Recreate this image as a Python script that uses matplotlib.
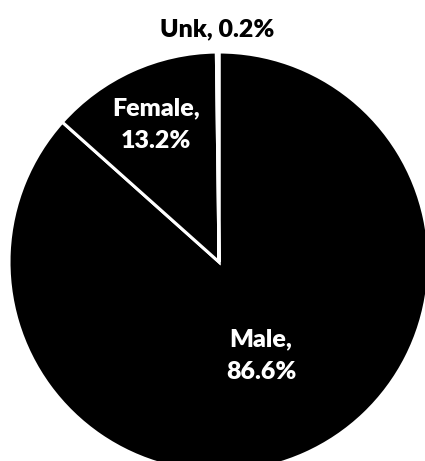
"""
Sex breakdown pie chart.
"""

import numpy as np
import matplotlib.pyplot as plt

labels = ['Male', 'Female', 'Unk']
shares = [86.6, 13.2, 0.2]
# radial position of each slice label, in units of the pie radius
label_radius = [0.49, 0.72, 1.11]

plt.rcParams['font.family'] = ['Lato', 'DejaVu Sans']

fig = plt.figure(figsize=(4.25, 4.61), dpi=100)
ax = fig.add_axes([0, 0, 1, 1])

wedges, _ = ax.pie(shares, startangle=90, counterclock=False, colors=['black'] * 3,
                   wedgeprops={'edgecolor': 'white', 'linewidth': 2.2})

for wedge, name, pct, dist in zip(wedges, labels, shares, label_radius):
    mid = np.deg2rad((wedge.theta1 + wedge.theta2) / 2)
    x, y = dist * np.cos(mid), dist * np.sin(mid)
    if dist > 1:
        ax.text(x, y, f'{name}, {pct:.1f}%', ha='center', va='center',
                fontsize=18, fontweight='heavy', color='black')
    else:
        ax.text(x, y, f'{name},\n{pct:.1f}%', ha='center', va='center',
                fontsize=18, fontweight='heavy', color='white', linespacing=1.6)

# pie centre at (219, 262) px from top-left, radius 210 px
r = 210
ax.set_aspect('auto')
ax.set_xlim(-219 / r, (425 - 219) / r)
ax.set_ylim(-(461 - 262) / r, 262 / r)
ax.axis('off')

fig.savefig('out.png', dpi=100)
